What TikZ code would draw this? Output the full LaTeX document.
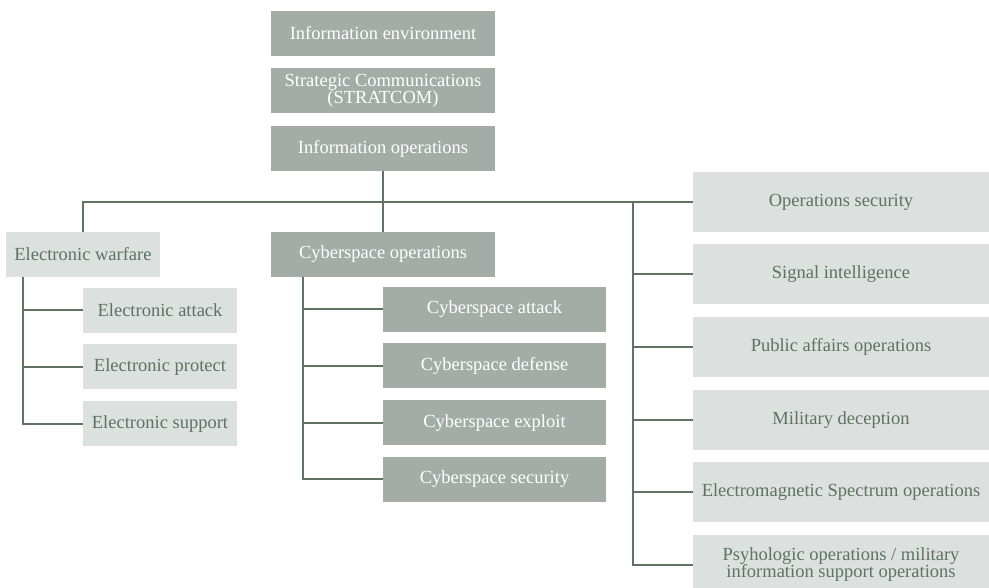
\documentclass[tikz,border=0pt]{standalone}
\usepackage{fontspec}
\setmainfont{Liberation Serif}
\usetikzlibrary{positioning, calc}
\definecolor{iodark}{HTML}{A3ACA6}
\definecolor{iolight}{HTML}{DCE0DE}
\definecolor{iotext}{HTML}{5E7364}
\definecolor{ioline}{HTML}{5E7362}
\tikzset{
  iobox/.style  = {font=\fontsize{18.5}{17.5}\selectfont, align=center, fill=iodark,
                   text=white, inner sep=2pt, minimum height=45pt, minimum width=224pt},
  iosub/.style  = {iobox, fill=iolight, text=iotext},
  ewsub/.style  = {iosub, minimum width=154pt},
  cysub/.style  = {iobox, minimum width=223pt},
  rtsub/.style  = {iosub, minimum width=296pt, minimum height=60pt},
  link/.style   = {draw=ioline, line width=2pt},
}
\begin{document}
\begin{tikzpicture}[x=1pt, y=-1pt]
    \useasboundingbox (0,0) rectangle (989,588);
    % top chain
    \node[iobox]                      (env)   at (383,33.5) {Information environment};
    \node[iobox, below=12pt of env]   (strat) {Strategic Communications\\(STRATCOM)};
    \node[iobox, below=12.5pt of strat] (iops) {Information operations};
    % second level
    \node[iobox]                      (cyo)   at (383,254.5) {Cyberspace operations};
    \node[iosub, minimum width=154pt] (ew)    at (83,254.5) {Electronic warfare};
    % electronic warfare
    \node[ewsub]                      (ea)    at (160,310.5) {Electronic attack};
    \node[ewsub, below=11pt of ea]    (ep)    {Electronic protect};
    \node[ewsub, below=11.5pt of ep]  (es)    {Electronic support};
    % cyberspace
    \node[cysub]                      (ca)    at (494.5,309.5) {Cyberspace attack};
    \node[cysub, below=11pt of ca]    (cd)    {Cyberspace defense};
    \node[cysub, below=11.5pt of cd]  (cx)    {Cyberspace exploit};
    \node[cysub, below=11pt of cx]    (cs)    {Cyberspace security};
    % right column
    \node[rtsub]                      (opsec) at (841,202) {Operations security};
    \node[rtsub, below=12pt of opsec] (sigint) {Signal intelligence};
    \node[rtsub, below=12pt of sigint] (pao)  {Public affairs operations};
    \node[rtsub, below=12.5pt of pao] (mildec) {Military deception};
    \node[rtsub, below=12pt of mildec] (ems)  {Electromagnetic Spectrum operations};
    \node[rtsub, below=12pt of ems]   (psyop) {Psyhologic operations / military\\information support operations};
    % connectors
    \draw[link] (iops) -- (cyo);
    \draw[link] (ew) |- (opsec);
    \coordinate (ewbus) at ($(ew.south west)+(17,0)$);
    \foreach \n in {ea,ep,es}
        \draw[link] (ewbus) |- (\n);
    \coordinate (cybus) at ($(cyo.south west)+(32,0)$);
    \foreach \n in {ca,cd,cx,cs}
        \draw[link] (cybus) |- (\n);
    \coordinate (rtbus) at (633,202);
    \foreach \n in {sigint,pao,mildec,ems,psyop}
        \draw[link] (rtbus) |- (\n);
\end{tikzpicture}
\end{document}
